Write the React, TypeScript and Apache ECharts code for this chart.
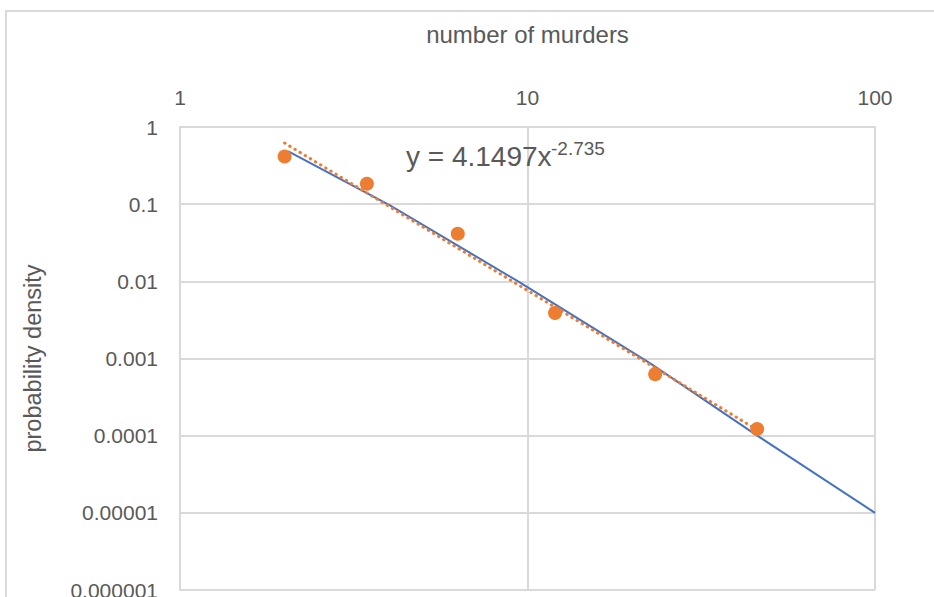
import React, { useEffect, useRef } from "react";
import * as echarts from "echarts";

const xTickLabels = ["1", "10", "100"];
const yTickLabels = ["1", "0.1", "0.01", "0.001", "0.0001", "0.00001", "0.000001"];

const observedX = [2, 3.45, 6.3, 12, 23.3, 45.8];
const observedY = [0.415, 0.184, 0.0414, 0.0039, 0.000625, 0.000122];

const modelX = [2.05, 4.02, 9.5, 22.5, 45.7, 100];
const modelY = [0.482, 0.0964, 0.0097, 0.00087, 0.000101, 0.00001];

const trendX = [2, 45.8];
const trendY = [0.62, 0.000119];

const xAxisTitle = "number of murders";
const yAxisTitle = "probability density";
const equationMain = "y = 4.1497x";
const equationExp = "-2.735";

const FONT = "Liberation Sans";
const TEXT = "#595959";
const GRID = "#D9D9D9";

export default function App() {
  const ref = useRef<HTMLDivElement>(null);
  useEffect(() => {
    if (!ref.current) return;
    const chart = echarts.init(ref.current, undefined, { renderer: "svg" });
    const zip = (xs: number[], ys: number[]) => xs.map((x, i) => [x, ys[i]]);
    chart.setOption({
      animation: false,
      backgroundColor: "#FFFFFF",
      textStyle: { fontFamily: FONT },
      grid: {
        left: 180,
        right: 59,
        top: 127,
        bottom: 7,
        containLabel: false,
        outerBoundsMode: "none",
      },
      xAxis: {
        type: "log",
        logBase: 10,
        min: 1,
        max: 100,
        position: "top",
        name: xAxisTitle,
        nameLocation: "middle",
        nameGap: 81,
        nameTextStyle: { color: TEXT, fontSize: 24, fontFamily: FONT },
        axisLine: { show: true, lineStyle: { color: GRID, width: 2 } },
        axisTick: { show: false },
        axisLabel: {
          color: TEXT,
          fontSize: 21,
          fontFamily: FONT,
          margin: 19,
          formatter: (v: number) => xTickLabels[Math.round(Math.log10(v))] ?? "",
        },
        splitLine: { show: true, lineStyle: { color: GRID, width: 2 } },
      },
      yAxis: {
        type: "log",
        logBase: 10,
        min: 0.000001,
        max: 1,
        interval: 1,
        name: yAxisTitle,
        nameLocation: "middle",
        nameGap: 135,
        nameTextStyle: { color: TEXT, fontSize: 23.5, fontFamily: FONT },
        axisLine: { show: true, lineStyle: { color: GRID, width: 2 } },
        axisTick: { show: false },
        axisLabel: {
          color: TEXT,
          fontSize: 21,
          fontFamily: FONT,
          margin: 22,
          formatter: (v: number) => yTickLabels[Math.round(-Math.log10(v))] ?? "",
        },
        splitLine: { show: true, lineStyle: { color: GRID, width: 2 } },
      },
      series: [
        {
          type: "line",
          data: zip(modelX, modelY),
          showSymbol: false,
          symbol: "none",
          lineStyle: { color: "#4472C4", width: 2 },
          z: 2,
        },
        {
          type: "line",
          data: zip(trendX, trendY),
          showSymbol: false,
          symbol: "none",
          lineStyle: { color: "#ED7D31", width: 3, type: [0.5, 5.5], cap: "round" },
          z: 3,
        },
        {
          type: "scatter",
          data: zip(observedX, observedY),
          symbol: "circle",
          symbolSize: 14,
          itemStyle: { color: "#ED7D31", opacity: 1 },
          z: 4,
        },
      ],
      graphic: [
        {
          type: "rect",
          shape: { x: 6, y: 11, width: 1200, height: 1200 },
          style: { fill: "none", stroke: GRID, lineWidth: 2 },
          silent: true,
          z: -1,
        },
        {
          type: "text",
          x: 406,
          y: 156,
          style: {
            text: equationMain,
            fill: TEXT,
            font: `28px "${FONT}"`,
            verticalAlign: "middle",
            align: "left",
          },
          z: 10,
        },
        {
          type: "text",
          x: 551,
          y: 148,
          style: {
            text: equationExp,
            fill: TEXT,
            font: `19px "${FONT}"`,
            verticalAlign: "middle",
            align: "left",
          },
          z: 10,
        },
      ],
    });
    return () => chart.dispose();
  }, []);
  return (
    <div
      ref={ref}
      style={{ position: "fixed", left: 0, top: 0, width: 934, height: 597 }}
    />
  );
}
